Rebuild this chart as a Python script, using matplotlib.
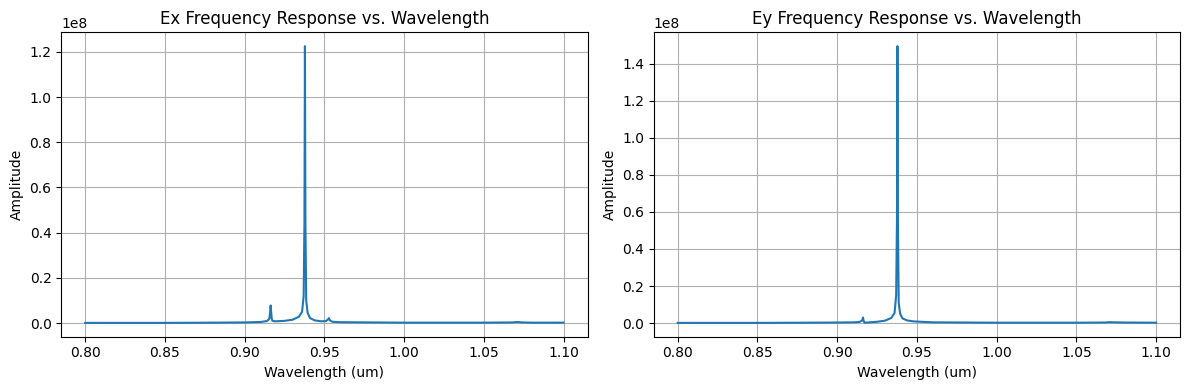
import numpy as np
import matplotlib.pyplot as plt

# === Data (amplitude in units of 1e8) ===
ex_wl = [0.800, 0.850, 0.880, 0.900, 0.910, 0.914, 0.9155, 0.9160, 0.9163, 0.9166,
         0.9170, 0.9175, 0.919, 0.925, 0.930, 0.934, 0.936, 0.9370, 0.9375, 0.9378,
         0.9381, 0.9386, 0.9395, 0.941, 0.944, 0.948, 0.951, 0.9522, 0.9528, 0.9535,
         0.955, 0.960, 0.980, 1.000, 1.050, 1.068, 1.071, 1.074, 1.080, 1.100]
ex_amp = [0.001, 0.001, 0.002, 0.003, 0.005, 0.009, 0.020, 0.050, 0.078, 0.050,
          0.018, 0.010, 0.008, 0.010, 0.015, 0.028, 0.050, 0.120, 0.450, 1.225,
          0.450, 0.100, 0.045, 0.022, 0.012, 0.008, 0.009, 0.016, 0.022, 0.012,
          0.006, 0.004, 0.003, 0.002, 0.002, 0.003, 0.005, 0.003, 0.002, 0.002]

ey_wl = [0.800, 0.850, 0.880, 0.900, 0.910, 0.914, 0.9158, 0.9162, 0.9166, 0.9172,
         0.919, 0.925, 0.930, 0.934, 0.936, 0.9370, 0.9375, 0.9378, 0.9381, 0.9386,
         0.9395, 0.941, 0.944, 0.948, 0.955, 0.960, 0.980, 1.000, 1.050, 1.068,
         1.071, 1.074, 1.080, 1.100]
ey_amp = [0.001, 0.001, 0.002, 0.003, 0.004, 0.006, 0.015, 0.030, 0.012, 0.002,
          0.003, 0.007, 0.013, 0.028, 0.055, 0.150, 0.550, 1.495, 0.550, 0.110,
          0.050, 0.025, 0.014, 0.009, 0.006, 0.004, 0.003, 0.002, 0.002, 0.003,
          0.005, 0.004, 0.003, 0.002]

ex_amp = np.array(ex_amp) * 1e8
ey_amp = np.array(ey_amp) * 1e8

# === Plot ===
fig, (ax1, ax2) = plt.subplots(1, 2, figsize=(12, 4), dpi=100)

ax1.plot(ex_wl, ex_amp)
ax1.set_title("Ex Frequency Response vs. Wavelength")
ax1.set_xlabel("Wavelength (um)")
ax1.set_ylabel("Amplitude")
ax1.grid(True)

ax2.plot(ey_wl, ey_amp)
ax2.set_title("Ey Frequency Response vs. Wavelength")
ax2.set_xlabel("Wavelength (um)")
ax2.set_ylabel("Amplitude")
ax2.grid(True)

plt.tight_layout()
plt.savefig("out.png", bbox_inches="tight")
